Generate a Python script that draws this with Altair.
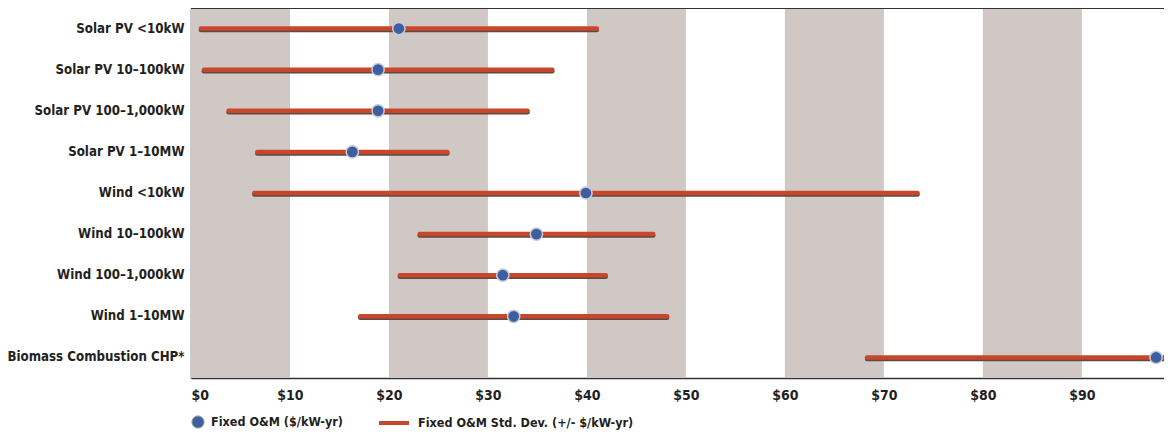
import altair as alt
import pandas as pd

categories = [
    "Solar PV <10kW", "Solar PV 10–100kW", "Solar PV 100–1,000kW", "Solar PV 1–10MW",
    "Wind <10kW", "Wind 10–100kW", "Wind 100–1,000kW", "Wind 1–10MW",
    "Biomass Combustion CHP*",
]
fixed_om = [21.0, 18.9, 18.9, 16.3, 39.9, 34.9, 31.5, 32.6, 97.5]
std_dev = [20.0, 17.6, 15.1, 9.6, 33.5, 11.8, 10.4, 15.5, 29.2]
band_start = [0, 20, 40, 60, 80]
band_end = [10, 30, 50, 70, 90]
tick_values = [0, 10, 20, 30, 40, 50, 60, 70, 80, 90]
series_point = "Fixed O&M ($/kW-yr)"
series_line = "Fixed O&M Std. Dev. (+/- $/kW-yr)"

df = pd.DataFrame({
    "cat": categories,
    "om": fixed_om,
    "lo": [m - s for m, s in zip(fixed_om, std_dev)],
    "hi": [m + s for m, s in zip(fixed_om, std_dev)],
    "s_point": series_point,
    "s_line": series_line,
})
bands = pd.DataFrame({"b0": band_start, "b1": band_end})

FONT = "Liberation Sans Narrow, DejaVu Sans Condensed, sans-serif"
W, H = 973, 370
xscale = alt.Scale(domain=[0, 98.3], nice=False, zero=False)
yenc = alt.Y("cat:N", sort=categories,
             scale=alt.Scale(paddingInner=0, paddingOuter=0),
             axis=alt.Axis(title=None, ticks=False, domain=True, domainColor="#333",
                           domainWidth=1.5, labelFont=FONT, labelFontSize=13.2,
                           labelFontWeight="bold", labelColor="#231f20", labelPadding=7,
                           labelLimit=400, grid=False))

band_layer = alt.Chart(bands).mark_rect(color="#cfc8c4").encode(
    x=alt.X("b0:Q", scale=xscale,
            axis=alt.Axis(title=None, values=tick_values, ticks=False, grid=False,
                          domain=True, domainColor="#333", domainWidth=1.5,
                          labelExpr="'$' + datum.value", labelFont=FONT,
                          labelFontSize=14, labelFontWeight="bold",
                          labelColor="#231f20", labelPadding=10)),
    x2="b1:Q",
)

top_border = alt.Chart(bands).mark_rule(color="#333", strokeWidth=2).encode(
    x=alt.value(0), x2=alt.value(W), y=alt.value(0)
)

shadow = alt.Chart(df).mark_rule(color="#5e4a44", strokeWidth=4.5, strokeCap="round",
                                 yOffset=1.5, clip=True).encode(
    x=alt.X("lo:Q", scale=xscale), x2="hi:Q", y=yenc
)

lines = alt.Chart(df).mark_rule(strokeWidth=4.5, strokeCap="round", clip=True).encode(
    x=alt.X("lo:Q", scale=xscale), x2="hi:Q", y=yenc,
    stroke=alt.Stroke("s_line:N",
                      scale=alt.Scale(domain=[series_line], range=["#c8472b"]),
                      legend=alt.Legend(title=None, orient="none", legendX=186, legendY=398,
                                        symbolType="stroke", symbolSize=900,
                                        symbolStrokeWidth=4, labelFont=FONT,
                                        labelFontSize=12.5, labelFontWeight="bold",
                                        labelColor="#231f20", labelOffset=7, padding=0,
                                        labelLimit=400)),
)

points = alt.Chart(df).mark_point(filled=True, size=150, opacity=1, stroke="#c9cbd3",
                                  strokeWidth=1.5, clip=True).encode(
    x=alt.X("om:Q", scale=xscale), y=yenc,
    fill=alt.Fill("s_point:N",
                  scale=alt.Scale(domain=[series_point], range=["#3d5fa0"]),
                  legend=alt.Legend(title=None, orient="none", legendX=0, legendY=407,
                                    symbolType="circle", symbolSize=150,
                                    symbolStrokeColor="#9a9aa0", symbolStrokeWidth=1,
                                    labelFont=FONT, labelFontSize=12.5,
                                    labelFontWeight="bold", labelColor="#231f20",
                                    labelOffset=6, padding=0, labelLimit=400)),
)

chart = alt.layer(band_layer, top_border, shadow, lines, points).properties(
    width=W, height=H,
    autosize=alt.AutoSizeParams(type="none"),
    padding={"left": 183, "top": 0, "right": 0, "bottom": 56},
).configure_view(stroke=None).configure(background="white")

chart.save("out.html", embed_options={"renderer": "svg", "actions": False})
